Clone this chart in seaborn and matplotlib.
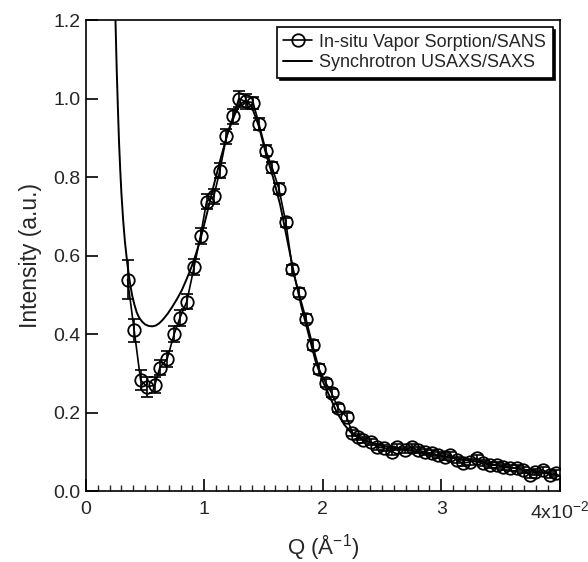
import numpy as np
import pandas as pd
import matplotlib
matplotlib.use("Agg")
import matplotlib.pyplot as plt
import seaborn as sns

# ======= DATA (Q in units of 1e-2 A^-1) =======
sans_q = [0.352, 0.408, 0.462, 0.517, 0.582, 0.624, 0.686, 0.745, 0.793, 0.852,
          0.914, 0.968, 1.019, 1.080, 1.131, 1.187, 1.243, 1.291, 1.348, 1.412,
          1.462, 1.519, 1.572, 1.629, 1.688, 1.744, 1.797, 1.857, 1.913, 1.969,
          2.025, 2.074, 2.130, 2.200, 2.250, 2.300, 2.340, 2.410, 2.460, 2.520,
          2.580, 2.630, 2.690, 2.750, 2.800, 2.860, 2.920, 2.970, 3.030, 3.070,
          3.130, 3.180, 3.240, 3.300, 3.350, 3.410, 3.470, 3.520, 3.580, 3.640,
          3.690, 3.750, 3.790, 3.860, 3.920, 3.970]
sans_i = [0.539, 0.410, 0.283, 0.266, 0.270, 0.315, 0.337, 0.400, 0.441, 0.483,
          0.572, 0.651, 0.738, 0.751, 0.817, 0.904, 0.955, 1.000, 0.993, 0.990,
          0.935, 0.868, 0.825, 0.771, 0.685, 0.565, 0.506, 0.440, 0.373, 0.311,
          0.276, 0.250, 0.211, 0.190, 0.148, 0.138, 0.130, 0.125, 0.112, 0.110,
          0.100, 0.112, 0.105, 0.112, 0.105, 0.100, 0.097, 0.092, 0.087, 0.092,
          0.079, 0.072, 0.074, 0.084, 0.072, 0.066, 0.066, 0.061, 0.059, 0.059,
          0.054, 0.041, 0.049, 0.054, 0.041, 0.046]
sans_err = [0.050, 0.030, 0.025, 0.025, 0.020, 0.020, 0.020, 0.020, 0.020, 0.020,
            0.020, 0.020, 0.020, 0.020, 0.020, 0.020, 0.020, 0.020, 0.020, 0.015,
            0.015, 0.015, 0.015, 0.015, 0.012, 0.012, 0.012, 0.012, 0.012, 0.012,
            0.010, 0.010, 0.010, 0.010, 0.008, 0.008, 0.008, 0.008, 0.008, 0.008,
            0.008, 0.008, 0.008, 0.008, 0.008, 0.008, 0.008, 0.008, 0.008, 0.008,
            0.008, 0.008, 0.008, 0.008, 0.008, 0.008, 0.008, 0.008, 0.008, 0.008,
            0.008, 0.008, 0.008, 0.008, 0.008, 0.008]

sync_q = [0.245, 0.250, 0.255, 0.260, 0.270, 0.280, 0.290, 0.300, 0.315, 0.330,
          0.350, 0.370, 0.390, 0.410, 0.430, 0.450, 0.475, 0.500, 0.530, 0.560,
          0.590, 0.620, 0.650, 0.690, 0.730, 0.770, 0.810, 0.850, 0.890, 0.930,
          0.970, 1.020, 1.080, 1.140, 1.200, 1.260, 1.310, 1.350, 1.400, 1.460,
          1.520, 1.580, 1.640, 1.700, 1.760, 1.820, 1.880, 1.940, 2.000, 2.060,
          2.120, 2.180, 2.250, 2.350, 2.500, 2.700, 3.000, 3.300, 3.600, 3.800,
          4.000]
sync_i = [1.26, 1.20, 1.14, 1.08, 0.98, 0.89, 0.82, 0.76, 0.69, 0.635,
          0.580, 0.535, 0.500, 0.475, 0.455, 0.442, 0.432, 0.425, 0.421, 0.420,
          0.422, 0.428, 0.437, 0.452, 0.470, 0.490, 0.512, 0.540, 0.570, 0.605,
          0.645, 0.705, 0.780, 0.850, 0.915, 0.962, 0.988, 0.995, 0.980, 0.930,
          0.860, 0.800, 0.730, 0.640, 0.550, 0.470, 0.400, 0.330, 0.280, 0.240,
          0.200, 0.170, 0.145, 0.130, 0.115, 0.105, 0.090, 0.075, 0.060, 0.050,
          0.040]

x_ticks = [0, 1, 2, 3, 4]
x_ticklabels = ["0", "1", "2", "3", r"4x10$^{\mathregular{-2}}$"]
y_ticks = [0.0, 0.2, 0.4, 0.6, 0.8, 1.0, 1.2]
# ===============================================

sans = pd.DataFrame({"q": sans_q, "I": sans_i, "err": sans_err})
sync = pd.DataFrame({"q": sync_q, "I": sync_i})

sns.set_style("ticks")
plt.rcParams["font.family"] = ["Liberation Sans", "DejaVu Sans"]
plt.rcParams["mathtext.fontset"] = "custom"
plt.rcParams["mathtext.rm"] = "Liberation Sans"

fig = plt.figure(figsize=(5.88, 5.62), dpi=100)
ax = fig.add_axes([0.146, 0.126, 0.806, 0.838])

# error bars of the SANS data
ax.errorbar(sans["q"], sans["I"], yerr=sans["err"], fmt="none",
            ecolor="black", elinewidth=1.2, capsize=4, capthick=1.2)

sns.lineplot(data=sans, x="q", y="I", ax=ax, color="black", linewidth=1.2,
             marker="o", markersize=9, markerfacecolor="none",
             markeredgecolor="black", markeredgewidth=1.3,
             label="In-situ Vapor Sorption/SANS", sort=False)
sns.lineplot(data=sync, x="q", y="I", ax=ax, color="black", linewidth=1.4,
             label="Synchrotron USAXS/SAXS", sort=False)

ax.set_xlim(0, 4)
ax.set_ylim(0, 1.2)
ax.set_xticks(x_ticks)
ax.set_xticklabels(x_ticklabels)
ax.set_xticks(np.arange(0, 4.01, 0.1), minor=True)
ax.set_yticks(y_ticks)
ax.set_yticklabels([f"{v:.1f}" for v in y_ticks])

ax.tick_params(axis="both", which="major", direction="in", length=8.5,
               width=1.2, labelsize=14, color="black")
ax.tick_params(axis="x", which="major", pad=7)
ax.tick_params(axis="y", which="major", pad=4)
ax.tick_params(axis="x", which="minor", direction="in", length=4, width=1.0)
for s in ax.spines.values():
    s.set_linewidth(1.2)
    s.set_color("black")

ax.set_xlabel(r"Q (Å$^{\mathregular{-1}}$)", fontsize=16, labelpad=6)
ax.set_ylabel("Intensity (a.u.)", fontsize=16.5, labelpad=8)

leg = ax.legend(loc="upper right", fontsize=13, frameon=True, fancybox=False,
                shadow={"color": "black", "alpha": 1.0}, edgecolor="black",
                borderaxespad=0.4, handlelength=1.6, borderpad=0.35,
                labelspacing=0.2, handletextpad=0.4)
leg.get_frame().set_linewidth(1.2)
leg.get_frame().set_alpha(1.0)

fig.savefig("out.png", dpi=100)
